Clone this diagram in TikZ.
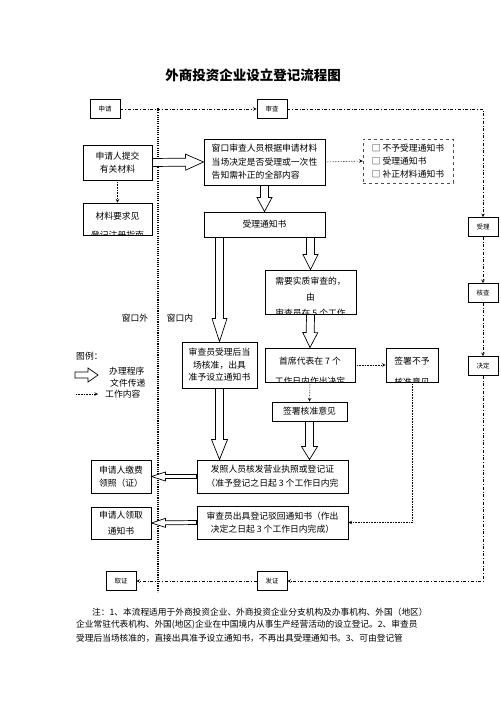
\documentclass[tikz,border=0pt]{standalone}
\usepackage{fontspec}
\setmainfont{Noto Sans CJK SC}
\usepackage{tikz}
\usetikzlibrary{calc, positioning, arrows}
\tikzstyle{box}=[draw, line width=0.9pt, inner sep=0pt, align=center, font=\fontsize{8.8}{13}\selectfont]
\tikzstyle{tag}=[draw, line width=0.7pt, inner sep=0pt, minimum width=30pt, minimum height=19pt, font=\fontsize{6.5}{8}\selectfont]
\tikzstyle{txt}=[inner sep=0pt, align=center, font=\fontsize{8.8}{13}\selectfont]
\tikzstyle{dd}=[dash dot, line width=0.6pt]
\tikzstyle{work}=[densely dotted, line width=0.6pt, ->]
\tikzstyle{sep}=[line width=1.5pt, dash pattern=on 1.1pt off 1.1pt]
\tikzstyle{hollow}=[draw, line width=0.7pt, fill=white]
\tikzset{>=stealth}
\tikzset{fat/.style n args={3}{to path={let \p1=(\tikztostart), \p2=(\tikztotarget), \n1={atan2(\y2-\y1,\x2-\x1)} in
  ($(\p1)+(\n1+90:#1)$) -- ($(\p2)+(\n1+180:#3)+(\n1+90:#1)$) -- ($(\p2)+(\n1+180:#3)+(\n1+90:#2)$) -- (\p2)
  -- ($(\p2)+(\n1+180:#3)+(\n1-90:#2)$) -- ($(\p2)+(\n1+180:#3)+(\n1-90:#1)$) -- ($(\p1)+(\n1-90:#1)$) -- cycle}}}

\begin{document}
\begin{tikzpicture}[x=1pt, y=-1pt]
\useasboundingbox (0,0) rectangle (500,708);
\node[font=\bfseries\fontsize{13.5}{16}\selectfont] (title) at (253,75) {外商投资企业设立登记流程图};

% stage tags
\node[tag] (shen) at (105,109) {申请};
\node[tag] (cha) at (272,109) {审查};
\node[tag] (r1) at (483,227) {受理};
\node[tag] (r2) at (483,293) {核查};
\node[tag] (r3) at (483,366) {决定};
\node[tag] (fa) at (272,581) {发证};
\node[tag] (qu) at (121,581) {取证};
\draw[dd,->] (shen.east) -- (cha.west);
\draw[dd,->] (cha.east) -| (r1.north);
\draw[dd,->] (r1.south) -- (r2.north);
\draw[dd,->] (r2.south) -- (r3.north);
\draw[dd,->] (r3.south) |- (fa.east);
\draw[dd,->] (fa.west) -- (qu.east);

\coordinate (sepT) at (158,108);
\coordinate (sepB) at (158,592);
\draw[sep] (sepT) -- (sepB);
\node[txt] (outside) at (135,318) {窗口外};
\node[txt] (inside) at (180,318) {窗口内};

% applicant side
\node[box, minimum width=69pt, minimum height=35pt] (submit) at (117.5,162.5) {申请人提交\\有关材料};
\node[box, minimum width=69pt, minimum height=32pt] (guide) at (117.5,219) {};
\node[box, minimum width=60pt, minimum height=33pt] (pay) at (121,476.5) {申请人缴费\\领照（证）};
\node[box, minimum width=60pt, minimum height=32pt, font=\fontsize{8.8}{16}\selectfont] (take) at (121,523) {申请人领取\\通知书};

% window
\node[box, minimum width=121pt, minimum height=46pt, align=left, font=\fontsize{8.8}{13.5}\selectfont] (window) at (264.5,162) {窗口审查人员根据申请材料\\当场决定是否受理或一次性\\告知需补正的全部内容};
\node[draw=black!70, dashed, line width=0.5pt, inner sep=0pt, minimum width=90pt, minimum height=44pt, align=left, font=\fontsize{8.8}{13}\selectfont] (notice) at (408,161) {□ 不予受理通知书\\□ 受理通知书\\□ 补正材料通知书};
\node[box, minimum width=121pt, minimum height=25pt] (accept) at (264.5,224.5) {受理通知书};

% review
\node[box, minimum width=75pt, minimum height=46pt, font=\fontsize{8.8}{12.5}\selectfont] (onsite) at (219.5,365) {审查员受理后当\\场核准，出具\\准予设立通知书};
\node[box, minimum width=91pt, minimum height=44pt] (exam) at (310.5,292) {};
\node[box, minimum width=90pt, minimum height=34pt] (chief) at (310,365) {};
\node[box, minimum width=52pt, minimum height=34pt] (reject) at (412,365) {};
\node[box, minimum width=75pt, minimum height=19pt] (approve) at (309.5,411.5) {签署核准意见};
\node[box, minimum width=151pt, minimum height=33pt, font=\fontsize{8.8}{14}\selectfont] (license) at (272.5,476.5) {发照人员核发营业执照或登记证\\（准予登记之日起 3 个工作日内完};
\node[box, minimum width=151pt, minimum height=33pt] (refuse) at (272.5,522.5) {审查员出具登记驳回通知书（作出\\决定之日起 3 个工作日内完成）};

\begin{scope}
\clip (guide.south west) rectangle (guide.north east);
\node[txt, font=\fontsize{8.8}{19}\selectfont] (guideT) at (117.5,225.5) {材料要求见\\登记注册指南};
\end{scope}
\begin{scope}
\clip (exam.south west) rectangle (exam.north east);
\node[txt, font=\fontsize{8.8}{16}\selectfont] (examT) at (310.5,297) {需要实质审查的，\\由\\审查员在 5 个工作};
\end{scope}
\begin{scope}
\clip (chief.south west) rectangle (chief.north east);
\node[txt, font=\fontsize{8.8}{20}\selectfont] (chiefT) at (310,371) {首席代表在 7 个\\工作日内作出决定};
\end{scope}
\begin{scope}
\clip (reject.south west) rectangle (reject.north east);
\node[txt, font=\fontsize{8.8}{21}\selectfont] (rejectT) at (412,372) {签署不予\\核准意见};
\end{scope}

% procedure arrows
\draw[hollow] (submit.east) to[fat={4pt}{8pt}{18pt}] (window.west);
\draw[hollow] (window.south) to[fat={4pt}{7.5pt}{14pt}] (accept.north);
\draw[hollow] (onsite.north |- accept.south) to[fat={4pt}{7.5pt}{23pt}] (onsite.north);
\draw[hollow] (exam.north |- accept.south) to[fat={4pt}{7.5pt}{15pt}] (exam.north);
\draw[hollow] (exam.south) to[fat={4pt}{7.5pt}{15pt}] (chief.north);
\draw[hollow] (onsite.south) to[fat={4pt}{8pt}{20pt}] (onsite.south |- license.north);
\draw[hollow] (approve.south) to[fat={4pt}{8pt}{13pt}] (approve.south |- license.north);
\draw[hollow] (license.west) to[fat={2pt}{4.5pt}{14pt}] (pay.east);
\draw[hollow] (refuse.west) to[fat={2pt}{4.5pt}{14pt}] (take.east);

% work content
\draw[work] (submit.south) -- (guide.north);
\draw[work] (window.east) -- (notice.west);
\draw[work] (chief.east) -- (reject.west);
\draw[work] (chief.south) -- (approve.north);
\draw[work] (reject.south) |- (refuse.east);

% legend
\node[txt, anchor=west] (legend) at (76,356) {图例：};
\coordinate (lgA) at (75,375);
\coordinate (lgB) at (98,375);
\draw[hollow] (lgA) to[fat={3pt}{7pt}{10pt}] (lgB);
\coordinate (lgC) at (76,394);
\coordinate (lgD) at (98,394);
\draw[work] (lgC) -- (lgD);
\node[txt, anchor=west] (lg1) at (109,371) {办理程序};
\node[txt, anchor=west] (lg2) at (110,383) {文件传递};
\node[txt, anchor=west] (lg3) at (105,394) {工作内容};

% notes
\node[txt, anchor=west, font=\fontsize{8.7}{13}\selectfont] (note1) at (92,612) {注：1、本流程适用于外商投资企业、外商投资企业分支机构及办事机构、外国（地区）};
\node[txt, anchor=west, font=\fontsize{8.7}{13}\selectfont] (note2) at (76,625) {企业常驻代表机构、外国(地区)企业在中国境内从事生产经营活动的设立登记。2、审查员};
\node[txt, anchor=west, font=\fontsize{8.7}{13}\selectfont] (note3) at (76,638) {受理后当场核准的，直接出具准予设立通知书，不再出具受理通知书。3、可由登记管};
\end{tikzpicture}
\end{document}
